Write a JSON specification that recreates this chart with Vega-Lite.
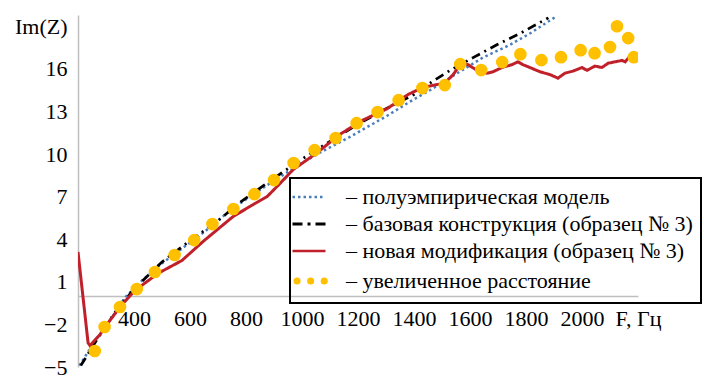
{
  "$schema": "https://vega.github.io/schema/vega-lite/v6.json",
  "width": 560,
  "height": 352,
  "autosize": "none",
  "padding": {"left": 78, "top": 15, "right": 66, "bottom": 15},
  "background": "white",
  "config": {
    "view": {"stroke": null},
    "font": "Liberation Serif",
    "axis": {"labelFont": "Liberation Serif", "labelFontSize": 22, "labelColor": "black", "domainColor": "#bfbfbf", "domainWidth": 1.5, "ticks": false, "grid": false, "title": null}
  },
  "data": {
    "values": [
      {"s": "полуэмпирическая модель", "F": 205, "Im": -4.9},
      {"s": "полуэмпирическая модель", "F": 250, "Im": -3.5},
      {"s": "полуэмпирическая модель", "F": 321, "Im": -1.5},
      {"s": "полуэмпирическая модель", "F": 368, "Im": -0.1},
      {"s": "полуэмпирическая модель", "F": 429, "Im": 1.1},
      {"s": "полуэмпирическая модель", "F": 500, "Im": 2.3},
      {"s": "полуэмпирическая модель", "F": 582, "Im": 3.5},
      {"s": "полуэмпирическая модель", "F": 650, "Im": 4.5},
      {"s": "полуэмпирическая модель", "F": 754, "Im": 6.2},
      {"s": "полуэмпирическая модель", "F": 875, "Im": 7.8},
      {"s": "полуэмпирическая модель", "F": 993, "Im": 9.3},
      {"s": "полуэмпирическая модель", "F": 1064, "Im": 10.1},
      {"s": "полуэмпирическая модель", "F": 1170, "Im": 11.2},
      {"s": "полуэмпирическая модель", "F": 1304, "Im": 12.7},
      {"s": "полуэмпирическая модель", "F": 1386, "Im": 13.7},
      {"s": "полуэмпирическая модель", "F": 1457, "Im": 14.5},
      {"s": "полуэмпирическая модель", "F": 1546, "Im": 15.6},
      {"s": "полуэмпирическая модель", "F": 1646, "Im": 16.8},
      {"s": "полуэмпирическая модель", "F": 1743, "Im": 17.7},
      {"s": "полуэмпирическая модель", "F": 1814, "Im": 18.5},
      {"s": "полуэмпирическая модель", "F": 1904, "Im": 19.65},
      {"s": "базовая конструкция (образец № 3)", "F": 210, "Im": -4.9},
      {"s": "базовая конструкция (образец № 3)", "F": 270, "Im": -3.0},
      {"s": "базовая конструкция (образец № 3)", "F": 330, "Im": -1.2},
      {"s": "базовая конструкция (образец № 3)", "F": 400, "Im": 0.5},
      {"s": "базовая конструкция (образец № 3)", "F": 500, "Im": 2.4},
      {"s": "базовая конструкция (образец № 3)", "F": 600, "Im": 3.9},
      {"s": "базовая конструкция (образец № 3)", "F": 700, "Im": 5.3},
      {"s": "базовая конструкция (образец № 3)", "F": 779, "Im": 6.6},
      {"s": "базовая конструкция (образец № 3)", "F": 850, "Im": 7.6},
      {"s": "базовая конструкция (образец № 3)", "F": 929, "Im": 8.7},
      {"s": "базовая конструкция (образец № 3)", "F": 1004, "Im": 9.7},
      {"s": "базовая конструкция (образец № 3)", "F": 1100, "Im": 10.9},
      {"s": "базовая конструкция (образец № 3)", "F": 1200, "Im": 12.1},
      {"s": "базовая конструкция (образец № 3)", "F": 1300, "Im": 13.2},
      {"s": "базовая конструкция (образец № 3)", "F": 1400, "Im": 14.2},
      {"s": "базовая конструкция (образец № 3)", "F": 1457, "Im": 15.0},
      {"s": "базовая конструкция (образец № 3)", "F": 1529, "Im": 15.9},
      {"s": "базовая конструкция (образец № 3)", "F": 1611, "Im": 16.8},
      {"s": "базовая конструкция (образец № 3)", "F": 1696, "Im": 17.7},
      {"s": "базовая конструкция (образец № 3)", "F": 1779, "Im": 18.5},
      {"s": "базовая конструкция (образец № 3)", "F": 1861, "Im": 19.4},
      {"s": "базовая конструкция (образец № 3)", "F": 1880, "Im": 19.6},
      {"s": "новая модификация (образец № 3)", "F": 200, "Im": 3.1},
      {"s": "новая модификация (образец № 3)", "F": 236, "Im": -3.3},
      {"s": "новая модификация (образец № 3)", "F": 243, "Im": -3.5},
      {"s": "новая модификация (образец № 3)", "F": 279, "Im": -2.7},
      {"s": "новая модификация (образец № 3)", "F": 307, "Im": -1.9},
      {"s": "новая модификация (образец № 3)", "F": 357, "Im": -0.6},
      {"s": "новая модификация (образец № 3)", "F": 404, "Im": 0.4},
      {"s": "новая модификация (образец № 3)", "F": 486, "Im": 1.6},
      {"s": "новая модификация (образец № 3)", "F": 571, "Im": 2.5},
      {"s": "новая модификация (образец № 3)", "F": 650, "Im": 3.9},
      {"s": "новая модификация (образец № 3)", "F": 754, "Im": 5.6},
      {"s": "новая модификация (образец № 3)", "F": 830, "Im": 6.5},
      {"s": "новая модификация (образец № 3)", "F": 875, "Im": 7.0},
      {"s": "новая модификация (образец № 3)", "F": 920, "Im": 7.9},
      {"s": "новая модификация (образец № 3)", "F": 968, "Im": 8.9},
      {"s": "новая модификация (образец № 3)", "F": 1054, "Im": 10.1},
      {"s": "новая модификация (образец № 3)", "F": 1136, "Im": 11.4},
      {"s": "новая модификация (образец № 3)", "F": 1218, "Im": 12.4},
      {"s": "новая модификация (образец № 3)", "F": 1304, "Im": 13.2},
      {"s": "новая модификация (образец № 3)", "F": 1379, "Im": 14.2},
      {"s": "новая модификация (образец № 3)", "F": 1432, "Im": 14.7},
      {"s": "новая модификация (образец № 3)", "F": 1482, "Im": 14.9},
      {"s": "новая модификация (образец № 3)", "F": 1510, "Im": 15.0},
      {"s": "новая модификация (образец № 3)", "F": 1540, "Im": 15.6},
      {"s": "новая модификация (образец № 3)", "F": 1568, "Im": 16.4},
      {"s": "новая модификация (образец № 3)", "F": 1593, "Im": 16.3},
      {"s": "новая модификация (образец № 3)", "F": 1625, "Im": 15.9},
      {"s": "новая модификация (образец № 3)", "F": 1661, "Im": 15.7},
      {"s": "новая модификация (образец № 3)", "F": 1682, "Im": 15.8},
      {"s": "новая модификация (образец № 3)", "F": 1714, "Im": 16.1},
      {"s": "новая модификация (образец № 3)", "F": 1750, "Im": 16.3},
      {"s": "новая модификация (образец № 3)", "F": 1771, "Im": 16.5},
      {"s": "новая модификация (образец № 3)", "F": 1789, "Im": 16.3},
      {"s": "новая модификация (образец № 3)", "F": 1814, "Im": 16.1},
      {"s": "новая модификация (образец № 3)", "F": 1850, "Im": 15.8},
      {"s": "новая модификация (образец № 3)", "F": 1886, "Im": 15.6},
      {"s": "новая модификация (образец № 3)", "F": 1914, "Im": 15.35},
      {"s": "новая модификация (образец № 3)", "F": 1939, "Im": 15.7},
      {"s": "новая модификация (образец № 3)", "F": 1968, "Im": 15.85},
      {"s": "новая модификация (образец № 3)", "F": 2000, "Im": 16.1},
      {"s": "новая модификация (образец № 3)", "F": 2018, "Im": 15.9},
      {"s": "новая модификация (образец № 3)", "F": 2046, "Im": 16.2},
      {"s": "новая модификация (образец № 3)", "F": 2071, "Im": 16.1},
      {"s": "новая модификация (образец № 3)", "F": 2093, "Im": 16.4},
      {"s": "новая модификация (образец № 3)", "F": 2118, "Im": 16.5},
      {"s": "новая модификация (образец № 3)", "F": 2143, "Im": 16.6},
      {"s": "новая модификация (образец № 3)", "F": 2154, "Im": 16.5},
      {"s": "новая модификация (образец № 3)", "F": 2175, "Im": 17.0},
      {"s": "новая модификация (образец № 3)", "F": 2196, "Im": 17.05},
      {"s": "увеличенное расстояние", "F": 260, "Im": -3.87},
      {"s": "увеличенное расстояние", "F": 295, "Im": -2.18},
      {"s": "увеличенное расстояние", "F": 350, "Im": -0.77},
      {"s": "увеличенное расстояние", "F": 410, "Im": 0.49},
      {"s": "увеличенное расстояние", "F": 475, "Im": 1.69},
      {"s": "увеличенное расстояние", "F": 545, "Im": 2.89},
      {"s": "увеличенное расстояние", "F": 615, "Im": 3.94},
      {"s": "увеличенное расстояние", "F": 680, "Im": 5.07},
      {"s": "увеличенное расстояние", "F": 755, "Im": 6.13},
      {"s": "увеличенное расстояние", "F": 830, "Im": 7.18},
      {"s": "увеличенное расстояние", "F": 900, "Im": 8.17},
      {"s": "увеличенное расстояние", "F": 970, "Im": 9.37},
      {"s": "увеличенное расстояние", "F": 1045, "Im": 10.28},
      {"s": "увеличенное расстояние", "F": 1120, "Im": 11.13},
      {"s": "увеличенное расстояние", "F": 1195, "Im": 12.18},
      {"s": "увеличенное расстояние", "F": 1270, "Im": 12.96},
      {"s": "увеличенное расстояние", "F": 1345, "Im": 13.8},
      {"s": "увеличенное расстояние", "F": 1430, "Im": 14.65},
      {"s": "увеличенное расстояние", "F": 1510, "Im": 14.86},
      {"s": "увеличенное расстояние", "F": 1565, "Im": 16.34},
      {"s": "увеличенное расстояние", "F": 1640, "Im": 15.92},
      {"s": "увеличенное расстояние", "F": 1715, "Im": 16.48},
      {"s": "увеличенное расстояние", "F": 1780, "Im": 17.04},
      {"s": "увеличенное расстояние", "F": 1855, "Im": 16.62},
      {"s": "увеличенное расстояние", "F": 1925, "Im": 16.83},
      {"s": "увеличенное расстояние", "F": 1995, "Im": 17.32},
      {"s": "увеличенное расстояние", "F": 2045, "Im": 17.11},
      {"s": "увеличенное расстояние", "F": 2100, "Im": 17.54},
      {"s": "увеличенное расстояние", "F": 2125, "Im": 19.01},
      {"s": "увеличенное расстояние", "F": 2165, "Im": 18.17},
      {"s": "увеличенное расстояние", "F": 2185, "Im": 16.83}
    ]
  },
  "encoding": {
    "x": {
      "field": "F", "type": "quantitative",
      "scale": {"domain": [200, 2200], "nice": false, "zero": false},
      "axis": {"values": [400, 600, 800, 1000, 1200, 1400, 1600, 1800, 2000, 2200], "format": "d", "labelExpr": "datum.value == 2200 ? 'F, Гц' : datum.label", "offset": -71, "labelPadding": 12, "labelOverlap": false, "labelFlush": false,
        "encode": {"labels": {"update": {"dx": {"signal": "datum.value == 2200 ? 5 : 0"}}}}}
    },
    "y": {
      "field": "Im", "type": "quantitative",
      "scale": {"domain": [-5, 19.8], "nice": false, "zero": false},
      "axis": {"values": [-5, -2, 1, 4, 7, 10, 13, 16, 19], "format": "d", "labelExpr": "datum.value == 19 ? 'Im(Z)' : datum.label", "labelPadding": 11, "labelOverlap": false, "labelFlush": false,
        "encode": {"labels": {"update": {"dy": {"signal": "datum.value == 19 ? -5 : 0"}}}}}
    },
    "color": {
      "field": "s", "type": "nominal",
      "scale": {
        "domain": ["полуэмпирическая модель", "базовая конструкция (образец № 3)", "новая модификация (образец № 3)", "увеличенное расстояние"],
        "range": ["#4a7ebb", "#000000", "#c0202a", "#ffc000"]
      },
      "legend": {
        "orient": "none", "legendX": 212, "legendY": 163,
        "title": null,
        "symbolType": "stroke", "symbolSize": 1089, "symbolStrokeWidth": 2.5,
        "labelFont": "Liberation Serif", "labelFontSize": 22, "labelColor": "black",
        "labelOffset": 26, "labelLimit": 600,
        "strokeColor": "black", "padding": 8, "rowPadding": 5,
        "labelExpr": "'– ' + datum.label",
        "encode": {
          "legend": {"update": {"strokeWidth": {"value": 2}}},
          "symbols": {"update": {
            "strokeWidth": {"signal": "datum.value === 'увеличенное расстояние' ? 7 : (datum.value === 'базовая конструкция (образец № 3)' ? 3 : 2.5)"},
            "strokeCap": {"signal": "datum.value === 'увеличенное расстояние' ? 'round' : 'butt'"},
            "strokeDash": {"signal": "datum.value === 'увеличенное расстояние' ? [0.1, 13.5] : (datum.value === 'полуэмпирическая модель' ? [2.5, 3] : (datum.value === 'базовая конструкция (образец № 3)' ? [10, 5, 3, 5] : [1, 0]))"},
            "strokeDashOffset": {"signal": "datum.value === 'увеличенное расстояние' ? -4.5 : 0"}
          }}
        }
      }
    }
  },
  "layer": [
    {
      "transform": [{"filter": "datum.s !== 'увеличенное расстояние'"}],
      "mark": {"type": "line", "clip": true},
      "encoding": {
        "strokeDash": {
          "field": "s", "type": "nominal",
          "scale": {"domain": ["полуэмпирическая модель", "базовая конструкция (образец № 3)", "новая модификация (образец № 3)"], "range": [[2.5, 3], [9, 5, 2, 5], [1, 0]]},
          "legend": null
        },
        "strokeWidth": {
          "field": "s", "type": "nominal",
          "scale": {"domain": ["полуэмпирическая модель", "базовая конструкция (образец № 3)", "новая модификация (образец № 3)"], "range": [2.5, 3, 2]},
          "legend": null
        }
      }
    },
    {
      "transform": [{"filter": "datum.s === 'увеличенное расстояние'"}],
      "mark": {"type": "circle", "size": 160, "opacity": 1, "clip": true}
    }
  ]
}
